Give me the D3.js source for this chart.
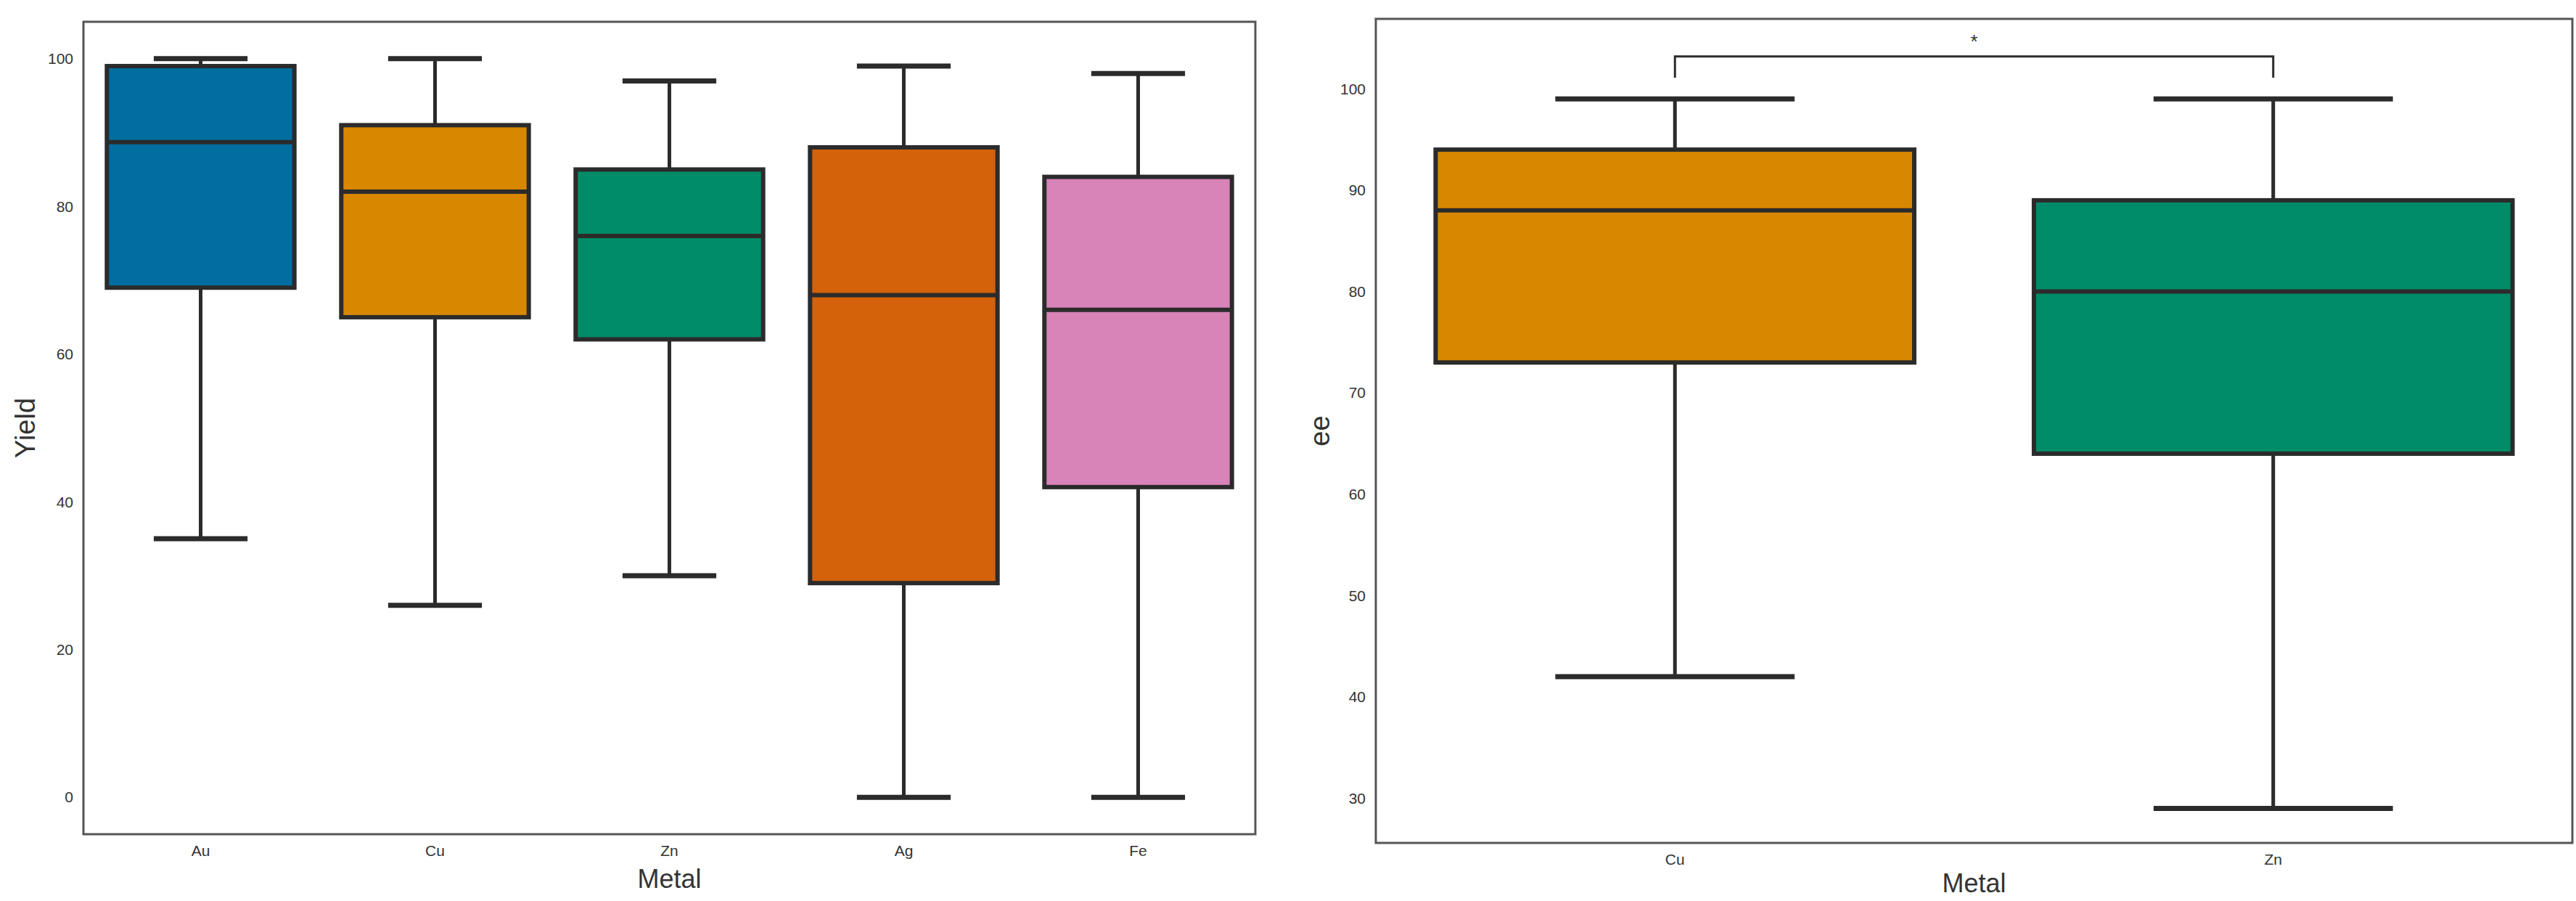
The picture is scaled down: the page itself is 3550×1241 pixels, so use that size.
<!DOCTYPE html>
<html>
<head>
<meta charset="utf-8">
<script src="https://cdn.jsdelivr.net/npm/d3@7"></script>
<style>
  body { margin: 0; background: #fff; }
  text { font-family: "Liberation Sans", Arial, sans-serif; }
</style>
</head>
<body>
<svg id="chart" width="3550" height="1241"></svg>
<script>
// Left panel: yield by metal (whisker low, Q1, median, Q3, whisker high)
const yieldMetals = ["Au", "Cu", "Zn", "Ag", "Fe"];
const yieldLow  = [35, 26, 30, 0, 0];
const yieldQ1   = [69, 65, 62, 29, 42];
const yieldMed  = [88.7, 82, 76, 68, 66];
const yieldQ3   = [99, 91, 85, 88, 84];
const yieldHigh = [100, 100, 97, 99, 98];
const yieldTicks = [0, 20, 40, 60, 80, 100];

// Right panel: ee by metal
const eeMetals = ["Cu", "Zn"];
const eeLow  = [42, 29];
const eeQ1   = [73, 64];
const eeMed  = [88, 80];
const eeQ3   = [94, 89];
const eeHigh = [99, 99];
const eeTicks = [30, 40, 50, 60, 70, 80, 90, 100];

const metalColors = {Au: "#016da0", Cu: "#d78800", Zn: "#008c68", Ag: "#d3620b", Fe: "#d884b8"};

const svg = d3.select("#chart");

function drawPanel(opts) {
    const {left, right, top, bottom, metals, low, q1, med, q3, high, ticks, domain, ylabel, ylabelX, titleOffset} = opts;
    const g = svg.append("g");

    const x = d3.scaleBand().domain(metals).range([left, right]);
    const y = d3.scaleLinear().domain(domain).range([bottom, top]);

    // frame
    g.append("rect")
        .attr("x", left).attr("y", top)
        .attr("width", right - left).attr("height", bottom - top)
        .attr("fill", "none").attr("stroke", "#555").attr("stroke-width", 3);

    // y tick labels
    g.selectAll(".ytick")
        .data(ticks)
        .join("text")
        .attr("x", left - 14)
        .attr("y", d => y(d))
        .attr("dy", "0.35em")
        .attr("text-anchor", "end")
        .attr("font-size", 21)
        .attr("fill", "#333")
        .text(d => d);

    // x tick labels
    g.selectAll(".xtick")
        .data(metals)
        .join("text")
        .attr("x", d => x(d) + x.bandwidth() / 2)
        .attr("y", bottom + 30)
        .attr("text-anchor", "middle")
        .attr("font-size", 21)
        .attr("fill", "#333")
        .text(d => d);

    // axis titles
    g.append("text")
        .attr("x", (left + right) / 2)
        .attr("y", bottom + titleOffset)
        .attr("text-anchor", "middle")
        .attr("font-size", 36)
        .attr("fill", "#333")
        .text("Metal");
    g.append("text")
        .attr("transform", `translate(${ylabelX},${(top + bottom) / 2}) rotate(-90)`)
        .attr("text-anchor", "middle")
        .attr("font-size", 38)
        .attr("fill", "#333")
        .text(ylabel);

    const bw = x.bandwidth();
    const boxes = g.selectAll(".box")
        .data(metals.map((m, i) => ({m, lo: low[i], q1: q1[i], med: med[i], q3: q3[i], hi: high[i]})))
        .join("g");

    const cx = d => x(d.m) + bw / 2;

    // whiskers
    boxes.append("line")
        .attr("x1", cx).attr("x2", cx)
        .attr("y1", d => y(d.hi)).attr("y2", d => y(d.lo))
        .attr("stroke", "#2b2b2b").attr("stroke-width", 5);
    boxes.append("rect")
        .attr("x", d => x(d.m) + bw * 0.1)
        .attr("width", bw * 0.8)
        .attr("y", d => y(d.q3))
        .attr("height", d => y(d.q1) - y(d.q3))
        .attr("fill", d => metalColors[d.m])
        .attr("stroke", "#2b2b2b").attr("stroke-width", 6);
    boxes.append("line")
        .attr("x1", d => x(d.m) + bw * 0.1).attr("x2", d => x(d.m) + bw * 0.9)
        .attr("y1", d => y(d.med)).attr("y2", d => y(d.med))
        .attr("stroke", "#2b2b2b").attr("stroke-width", 6);
    [d => d.lo, d => d.hi].forEach(f => {
        boxes.append("line")
            .attr("x1", d => x(d.m) + bw * 0.3).attr("x2", d => x(d.m) + bw * 0.7)
            .attr("y1", d => y(f(d))).attr("y2", d => y(f(d)))
            .attr("stroke", "#2b2b2b").attr("stroke-width", 7);
    });

    return {g, x, y};
}

drawPanel({
    left: 115, right: 1730, top: 30, bottom: 1149,
    metals: yieldMetals, low: yieldLow, q1: yieldQ1, med: yieldMed, q3: yieldQ3, high: yieldHigh,
    ticks: yieldTicks, domain: [-5, 105], ylabel: "Yield", ylabelX: 48, titleOffset: 74
});

const right = drawPanel({
    left: 1896, right: 3545, top: 26, bottom: 1161,
    metals: eeMetals, low: eeLow, q1: eeQ1, med: eeMed, q3: eeQ3, high: eeHigh,
    ticks: eeTicks, domain: [25.6, 106.9], ylabel: "ee", ylabelX: 1832, titleOffset: 68
});

// significance bracket between Cu and Zn
const bx1 = right.x("Cu") + right.x.bandwidth() / 2;
const bx2 = right.x("Zn") + right.x.bandwidth() / 2;
const yTop = right.y(103.2), yEnd = right.y(101.1);
right.g.append("path")
    .attr("d", `M${bx1},${yEnd}V${yTop}H${bx2}V${yEnd}`)
    .attr("fill", "none").attr("stroke", "#2b2b2b").attr("stroke-width", 3);
right.g.append("text")
    .attr("x", (bx1 + bx2) / 2)
    .attr("y", yTop - 12)
    .attr("text-anchor", "middle")
    .attr("font-size", 26)
    .attr("fill", "#333")
    .text("*");
</script>
</body>
</html>
